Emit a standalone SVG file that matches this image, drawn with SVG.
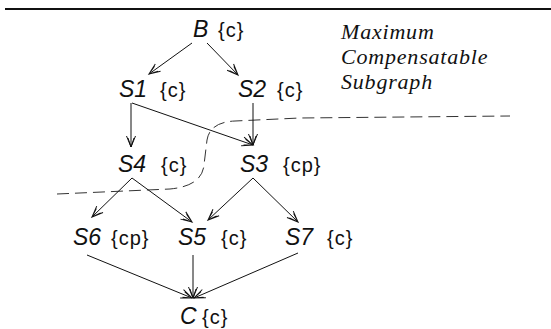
<svg xmlns="http://www.w3.org/2000/svg" width="551" height="329" viewBox="0 0 551 329">
<defs>
<marker id="ah" markerUnits="userSpaceOnUse" markerWidth="14" markerHeight="12" refX="12" refY="5" orient="auto" viewBox="0 0 14 10">
<path d="M1,0.5 L12,5 L1,9.5 M3,2 L12,5 L3,8" fill="none" stroke="#111" stroke-width="1"/>
</marker>
<style>
.lbl{font-family:"Liberation Sans",Arial,sans-serif;font-style:italic;font-size:23px;fill:#111}
.ann{font-family:"Liberation Sans",Arial,sans-serif;font-size:20px;letter-spacing:1px;fill:#111}
.ttl{font-family:"Liberation Serif","Times New Roman",serif;font-style:italic;font-size:22px;letter-spacing:0.8px;fill:#111}
.edge{stroke:#111;stroke-width:1;fill:none;marker-end:url(#ah)}
</style>
</defs>
<rect width="551" height="329" fill="#fff"/>
<line x1="5" y1="9" x2="551" y2="9" stroke="#111" stroke-width="2"/>
<g id="title">
<text class="ttl" x="341" y="39">Maximum</text>
<text class="ttl" x="341" y="64">Compensatable</text>
<text class="ttl" x="341" y="89">Subgraph</text>
</g>
<path id="boundary" d="M57,194 L170,189 Q202,186 204,165 L207,140 Q210,122 235,121 L300,118 L510,116" fill="none" stroke="#333" stroke-width="1" stroke-dasharray="12 6"/>
<g id="connectors">
<line class="edge" x1="192" y1="43" x2="149" y2="74"/>
<line class="edge" x1="207" y1="43" x2="238" y2="75"/>
<line class="edge" x1="131" y1="103" x2="131" y2="147"/>
<line class="edge" x1="132" y1="103" x2="253" y2="145"/>
<line class="edge" x1="253" y1="103" x2="253" y2="145"/>
<line class="edge" x1="132" y1="178" x2="92" y2="217"/>
<line class="edge" x1="132" y1="178" x2="192" y2="222"/>
<line class="edge" x1="253" y1="178" x2="208" y2="220"/>
<line class="edge" x1="253" y1="178" x2="298" y2="222"/>
<line class="edge" x1="87" y1="255" x2="192" y2="298"/>
<line class="edge" x1="193" y1="255" x2="193" y2="298"/>
<line class="edge" x1="298" y1="253" x2="194" y2="298"/>
</g>
<g id="B"><text class="lbl" x="193" y="37">B</text><text class="ann" x="218" y="37">{c}</text></g>
<g id="S1"><text class="lbl" x="119" y="97">S1</text><text class="ann" x="160" y="97">{c}</text></g>
<g id="S2"><text class="lbl" x="238" y="97">S2</text><text class="ann" x="277" y="97">{c}</text></g>
<g id="S4"><text class="lbl" x="118" y="172">S4</text><text class="ann" x="161" y="172">{c}</text></g>
<g id="S3"><text class="lbl" x="240" y="172">S3</text><text class="ann" x="283" y="172">{cp}</text></g>
<g id="S6"><text class="lbl" x="73" y="245">S6</text><text class="ann" x="111" y="245">{cp}</text></g>
<g id="S5"><text class="lbl" x="178" y="245">S5</text><text class="ann" x="221" y="245">{c}</text></g>
<g id="S7"><text class="lbl" x="285" y="245">S7</text><text class="ann" x="327" y="245">{c}</text></g>
<g id="C"><text class="lbl" x="180" y="324">C</text><text class="ann" x="202" y="324">{c}</text></g>
</svg>
